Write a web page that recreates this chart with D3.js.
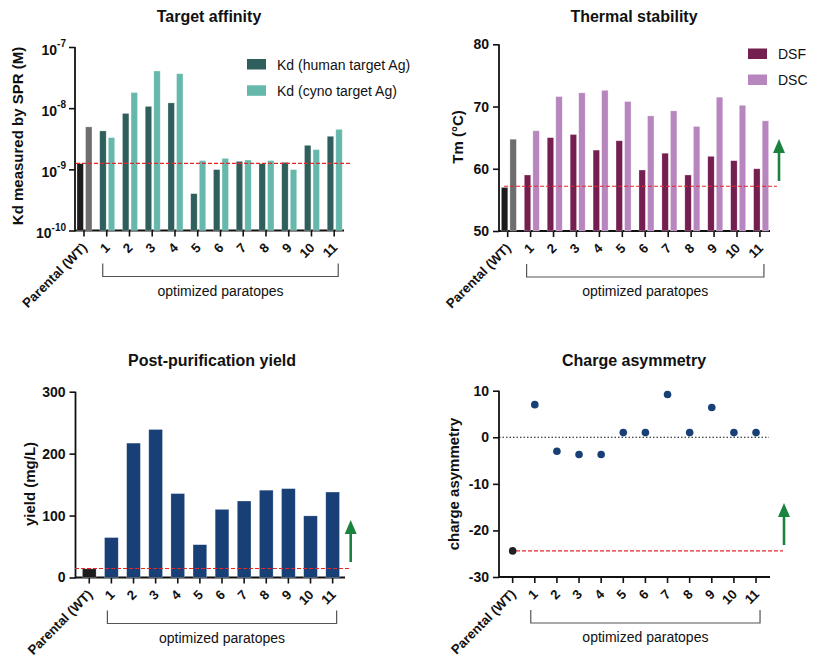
<!DOCTYPE html>
<html>
<head>
<meta charset="utf-8">
<script src="https://cdn.jsdelivr.net/npm/d3@7"></script>
<style>
  html, body { margin: 0; padding: 0; background: #fff; }
  svg { display: block; font-family: "Liberation Sans", Arial, Helvetica, sans-serif; }
</style>
</head>
<body>
<div id="chart"></div>
<script>
// ---------------- DATA ----------------
const categories = ["Parental (WT)", "1", "2", "3", "4", "5", "6", "7", "8", "9", "10", "11"];

const kdHuman = [1.24e-9, 4.25e-9, 8.2e-9, 1.07e-8, 1.22e-8, 4.0e-10, 9.9e-10, 1.35e-9, 1.24e-9, 1.30e-9, 2.47e-9, 3.47e-9];
const kdCyno  = [4.94e-9, 3.3e-9, 1.8e-8, 4.05e-8, 3.66e-8, 1.39e-9, 1.51e-9, 1.42e-9, 1.39e-9, 9.9e-10, 2.1e-9, 4.5e-9];
const kdReference = 1.25e-9;
const kdTicks = [1e-10, 1e-9, 1e-8, 1e-7];
const kdSeries = ["Kd (human target Ag)", "Kd (cyno target Ag)"];

const tmDSF = [57.0, 59.0, 65.0, 65.5, 63.0, 64.5, 59.8, 62.5, 59.0, 62.0, 61.3, 60.0];
const tmDSC = [64.75, 66.1, 71.6, 72.2, 72.6, 70.8, 68.5, 69.3, 66.8, 71.5, 70.2, 67.7];
const tmReference = 57.2;
const tmTicks = [50, 60, 70, 80];
const tmSeries = ["DSF", "DSC"];

const yieldValues = [14, 64.5, 217, 239, 135.5, 53, 110, 123.5, 141, 143.5, 99.5, 138];
const yieldReference = 14.5;
const yieldTicks = [0, 100, 200, 300];

const chargeValues = [-24.4, 7.0, -3.0, -3.7, -3.7, 1.0, 1.0, 9.2, 1.0, 6.4, 1.0, 1.0];
const chargeReference = -24.4;
const chargeTicks = [-30, -20, -10, 0, 10];

const groupLabel = "optimized paratopes";

// ---------------- STYLE ----------------
const C = {
  human: "#2f5f5c", cyno: "#67b8ac",
  dsf: "#741f50", dsc: "#b886bf",
  yield: "#183f76", dot: "#183f76",
  parentA: "#1c1c1c", parentB: "#6e6e6e",
  red: "#e8262a", green: "#1b8240", bracket: "#555"
};
const FONT_TICK = 14, FONT_XTICK = 13.2, FONT_TITLE = 16, FONT_AXTITLE = 15, FONT_LEG = 14;

const svg = d3.select("#chart").append("svg").attr("width", 813).attr("height", 659);

function makePanel(p) {
  const g = svg.append("g");
  const x = d3.scaleBand().domain(categories).range(p.xRange);
  const y = p.yScale;

  // x ticks
  const xa = g.append("g").attr("transform", `translate(0,${p.axisY})`)
    .call(d3.axisBottom(x).tickSize(6).tickSizeOuter(0).tickFormat(""));
  xa.select(".domain").remove();
  xa.selectAll(".tick line").attr("stroke", "#111").attr("stroke-width", 1.6);
  xa.selectAll(".tick").append("text")
    .attr("transform", "translate(4,18) rotate(-45)")
    .attr("text-anchor", "end")
    .attr("fill", "#111")
    .style("font-size", FONT_XTICK + "px").style("font-weight", "bold")
    .text(d => d);

  // y axis
  const ya = g.append("g").attr("transform", `translate(${p.yAxisX},0)`)
    .call(d3.axisLeft(y).tickValues(p.yTicks).tickSize(6).tickPadding(4)
      .tickSizeOuter(0).tickFormat(p.logFormat ? () => "" : d3.format("d")));
  ya.select(".domain").remove();
  ya.selectAll(".tick line").attr("stroke", "#111").attr("stroke-width", 1.6);
  ya.selectAll(".tick text").attr("fill", "#111")
    .style("font-size", FONT_TICK + "px").style("font-weight", "bold")
    .style("font-family", '"Liberation Sans", Arial, sans-serif');
  if (p.logFormat) {
    ya.selectAll(".tick text").each(function(d) {
      const t = d3.select(this).attr("x", -9);
      const e = Math.round(Math.log10(d));
      t.append("tspan").text("10").attr("dy", "0.5em");
      t.append("tspan").text(String(e)).attr("dy", "-0.75em").style("font-size", "10px");
    });
  } else {
    ya.selectAll(".tick text").text(d => String(d));
  }

  // axis lines
  const yr = y.range();
  g.append("line").attr("x1", p.yAxisX).attr("x2", p.yAxisX)
    .attr("y1", Math.max(yr[0], yr[1]) + 0.9).attr("y2", Math.min(yr[0], yr[1]))
    .attr("stroke", "#111").attr("stroke-width", 1.8);
  g.append("line").attr("x1", p.yAxisX).attr("x2", p.xEnd)
    .attr("y1", p.axisY).attr("y2", p.axisY)
    .attr("stroke", "#111").attr("stroke-width", 1.8);

  // title
  g.append("text").attr("x", p.titleX).attr("y", p.titleY).attr("text-anchor", "middle")
    .style("font-size", FONT_TITLE + "px").style("font-weight", "bold").attr("fill", "#111")
    .text(p.title);
  // y title
  g.append("text").attr("transform", `translate(${p.yTitleX},${p.yTitleY}) rotate(-90)`)
    .attr("text-anchor", "middle")
    .style("font-size", FONT_AXTITLE + "px").style("font-weight", "bold").attr("fill", "#111")
    .text(p.yTitle);

  // bracket
  const bx1 = x(categories[1]) + x.bandwidth() / 2 - 4;
  const bx2 = x(categories[categories.length - 1]) + x.bandwidth() / 2 + 4;
  const by1 = p.axisY + 33, by2 = p.axisY + 46;
  g.append("path").attr("d", `M${bx1},${by1}V${by2}H${bx2}V${by1}`)
    .attr("fill", "none").attr("stroke", C.bracket).attr("stroke-width", 1.2);
  g.append("text").attr("x", (bx1 + bx2) / 2).attr("y", by2 + 19).attr("text-anchor", "middle")
    .style("font-size", FONT_LEG + "px").attr("fill", "#111").text(groupLabel);

  return { g, x, y };
}

function refLine(panel, value, x1, x2, dash, color) {
  panel.g.append("line").attr("x1", x1).attr("x2", x2)
    .attr("y1", panel.y(value)).attr("y2", panel.y(value))
    .attr("stroke", color).attr("stroke-width", 1.1).attr("stroke-dasharray", dash);
}

function arrow(g, x, yTop, yBottom) {
  g.append("line").attr("x1", x).attr("x2", x).attr("y1", yBottom).attr("y2", yTop + 12)
    .attr("stroke", C.green).attr("stroke-width", 2.6);
  g.append("path").attr("d", `M${x - 6},${yTop + 14}L${x},${yTop}L${x + 6},${yTop + 14}Z`)
    .attr("fill", C.green);
}

function legend(g, items, colors, x, y0, dy) {
  items.forEach((name, i) => {
    g.append("rect").attr("x", x).attr("y", y0 + i * dy).attr("width", 19).attr("height", 10.5)
      .attr("fill", colors[i]);
    g.append("text").attr("x", x + 30).attr("y", y0 + i * dy + 10.5)
      .style("font-size", FONT_LEG + "px").attr("fill", "#111").text(name);
  });
}

// ---------------- PANEL A: Target affinity ----------------
const pA = makePanel({
  xRange: [72.6, 345.6], yAxisX: 75, xEnd: 344, axisY: 230.5,
  yScale: d3.scaleLog().domain([1e-10, 1e-7]).range([230.5, 47]),
  yTicks: kdTicks, logFormat: true,
  title: "Target affinity", titleX: 209, titleY: 22,
  yTitle: "Kd measured by SPR (M)", yTitleX: 23, yTitleY: 136
});
{
  const sub = d3.scaleBand().domain([0, 1]).range([-7, 8]).paddingInner(0.25);
  const rows = categories.map((c, i) => ({ c, i, vals: [kdHuman[i], kdCyno[i]] }));
  rows.forEach(r => {
    r.vals.forEach((v, k) => {
      const cx = pA.x(r.c) + pA.x.bandwidth() / 2;
      const col = r.i === 0 ? (k === 0 ? C.parentA : C.parentB) : (k === 0 ? C.human : C.cyno);
      pA.g.append("rect").attr("x", cx + sub(k)).attr("width", sub.bandwidth())
        .attr("y", pA.y(v)).attr("height", pA.y(1e-10) - pA.y(v))
        .attr("fill", col).attr("stroke", "rgba(255,255,255,0.45)").attr("stroke-width", 0.6);
    });
  });
  refLine(pA, kdReference, 76, 350, "4,2", C.red);
  legend(pA.g, kdSeries, [C.human, C.cyno], 247, 59, 26.3);
}

// ---------------- PANEL B: Thermal stability ----------------
const pB = makePanel({
  xRange: [496.2, 771.4], yAxisX: 499, xEnd: 770, axisY: 231,
  yScale: d3.scaleLinear().domain([50, 80]).range([231, 44.3]),
  yTicks: tmTicks,
  title: "Thermal stability", titleX: 634, titleY: 22,
  yTitle: "Tm (°C)", yTitleX: 463, yTitleY: 137
});
{
  const sub = d3.scaleBand().domain([0, 1]).range([-6.3, 8.7]).paddingInner(0.25);
  categories.forEach((c, i) => {
    [tmDSF[i], tmDSC[i]].forEach((v, k) => {
      const cx = pB.x(c) + pB.x.bandwidth() / 2;
      const col = i === 0 ? (k === 0 ? C.parentA : C.parentB) : (k === 0 ? C.dsf : C.dsc);
      pB.g.append("rect").attr("x", cx + sub(k)).attr("width", sub.bandwidth())
        .attr("y", pB.y(v)).attr("height", pB.y(50) - pB.y(v))
        .attr("fill", col).attr("stroke", "rgba(255,255,255,0.45)").attr("stroke-width", 0.6);
    });
  });
  refLine(pB, tmReference, 504, 777, "4,2", C.red);
  legend(pB.g, tmSeries, [C.dsf, C.dsc], 748, 48.5, 26);
  arrow(pB.g, 779, 139, 181);
}

// ---------------- PANEL C: Post-purification yield ----------------
const pC = makePanel({
  xRange: [78.2, 343.7], yAxisX: 75.5, xEnd: 345, axisY: 577.5,
  yScale: d3.scaleLinear().domain([0, 300]).range([577.5, 391.7]),
  yTicks: yieldTicks,
  title: "Post-purification yield", titleX: 212, titleY: 366,
  yTitle: "yield (mg/L)", yTitleX: 35, yTitleY: 484
});
{
  const xb = pC.x.copy().paddingInner(0.38).paddingOuter(0.19);
  categories.forEach((c, i) => {
    const v = yieldValues[i];
    pC.g.append("rect").attr("x", xb(c)).attr("width", xb.bandwidth())
      .attr("y", pC.y(v)).attr("height", pC.y(0) - pC.y(v))
      .attr("fill", i === 0 ? C.parentA : C.yield)
      .attr("stroke", "rgba(255,255,255,0.45)").attr("stroke-width", 0.6);
  });
  refLine(pC, yieldReference, 75, 349, "4,2", C.red);
  arrow(pC.g, 350.7, 520, 562);
}

// ---------------- PANEL D: Charge asymmetry ----------------
const pD = makePanel({
  xRange: [501.6, 767.1], yAxisX: 499, xEnd: 770, axisY: 577,
  yScale: d3.scaleLinear().domain([-30, 10]).range([577, 390.7]),
  yTicks: chargeTicks,
  title: "Charge asymmetry", titleX: 634, titleY: 366,
  yTitle: "charge asymmetry", yTitleX: 459, yTitleY: 484
});
{
  refLine(pD, 0, 499, 769, "1.5,2", "#111");
  refLine(pD, chargeReference, 510, 783, "4,2", C.red);
  categories.forEach((c, i) => {
    pD.g.append("circle")
      .attr("cx", pD.x(c) + pD.x.bandwidth() / 2).attr("cy", pD.y(chargeValues[i]))
      .attr("r", 3.8).attr("fill", i === 0 ? "#222" : C.dot);
  });
  arrow(pD.g, 784, 503, 545);
}
</script>
</body>
</html>
